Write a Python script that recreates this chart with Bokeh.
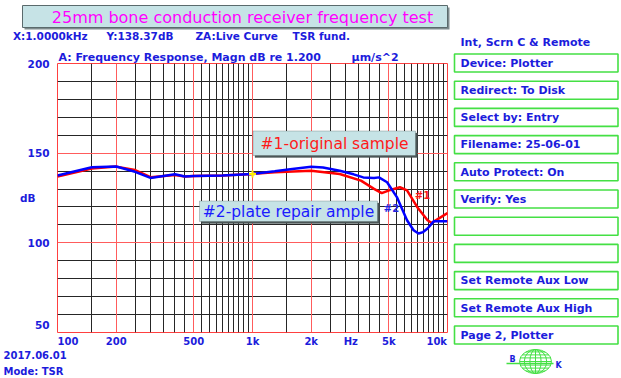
import numpy as np
from bokeh.plotting import figure
from bokeh.layouts import row, column
from bokeh.models import FixedTicker, Grid, Label, BoxAnnotation, Range1d, Title
from bokeh.core.properties import value
from bokeh.embed import file_html
from bokeh.resources import INLINE

# ---------------- data ----------------
freq_orig = [100, 150, 200, 250, 300, 400, 450, 500, 700, 1000, 1300, 2000, 2800,
             3600, 4200, 4600, 5100, 5700, 6200, 7000, 7900, 8300, 9000, 10000]
db_orig = [137.0, 141.5, 142.5, 140.6, 136.6, 137.8, 137.0, 137.2, 137.6, 138.4, 139.3, 140.2, 138.4,
           134.7, 130.1, 127.7, 129.5, 131.0, 129.2, 119.9, 112.6, 111.1, 113.5, 116.6]

freq_repair = [100, 150, 200, 250, 300, 400, 450, 500, 700, 1000, 1300, 1600, 2000, 2300, 2800,
               3300, 3700, 4200, 4450, 4900, 5500, 6200, 6700, 7100, 7500, 7900, 8500, 10000]
db_repair = [137.5, 142.1, 142.6, 139.6, 136.2, 138.2, 137.0, 137.2, 137.6, 138.4, 139.9, 141.2, 142.4, 142.0, 140.2,
             138.2, 136.5, 136.2, 136.5, 133.8, 125.5, 112.6, 107.0, 105.2, 106.0, 108.0, 112.0, 112.0]

cursor_freq = [1000]
cursor_db = [138.37]

x_tick_values = [100, 200, 500, 1000, 2000, 3000, 5000, 10000]
x_tick_labels = ["100", "200", "500", "1k", "2k", "Hz", "5k", "10k"]
x_major_grid = [100, 200, 500, 1000, 2000, 5000, 10000]
x_minor_grid = [150, 250, 300, 350, 400, 450, 550, 600, 650, 700, 750, 800, 850, 900, 950,
                1500, 2500, 3000, 3500, 4000, 4500, 5500, 6000, 6500, 7000, 7500, 8000, 8500, 9000, 9500]
y_tick_values = [50, 100, 150, 200]
y_tick_labels = ["50", "100", "150", "200"]
y_minor_grid = [60, 70, 80, 90, 110, 120, 130, 140, 160, 170, 180, 190]

title_text = "25mm bone conduction receiver frequency test"
status_items = ["X:1.0000kHz", "Y:138.37dB", "ZA:Live Curve", "TSR fund."]
chart_caption = "A: Frequency Response, Magn dB re 1.200"
chart_unit = "\u03bcm/s^2"
panel_header = "Int, Scrn C & Remote"
panel_items = ["Device: Plotter", "Redirect: To Disk", "Select by: Entry", "Filename: 25-06-01",
               "Auto Protect: On", "Verify: Yes", "", "", "Set Remote Aux Low",
               "Set Remote Aux High", "Page 2, Plotter"]

# ---------------- style / layout constants ----------------
FONT = "DejaVu Sans"
BLUE = "#1c1cdc"
RED_GRID = "#ff5c5c"
GREEN = "#44e044"
BOXFILL = "#c6e3e6"
SHADOW = "#4a5556"
W, H = 621, 378
LW = 450                       # width of left column
TOP_H = 48
FL, FR, FT, FB = 57, 447, 62, 333
BORDER_BOTTOM = 16
CHART_H = FB - TOP_H + BORDER_BOTTOM
BOT_H = H - TOP_H - CHART_H
NB = "\u00a0"


def deco_fig(x0, x1, y0, y1):
    f = figure(width=int(x1 - x0), height=int(y1 - y0), x_range=Range1d(x0, x1), y_range=Range1d(y1, y0),
               output_backend="svg", toolbar_location=None, min_border=0,
               x_axis_location=None, y_axis_location=None, title=None, frame_align=False,
               background_fill_color="white", border_fill_color="white", outline_line_color=None)
    f.grid.visible = False
    return f


def txt(f, x, y, s, color=BLUE, size="10.5px", style="bold", align="left"):
    f.text(x=[x], y=[y], text=[s], text_color=color, text_font=value(FONT), text_font_size=size,
           text_font_style=style, text_align=align, text_baseline="middle")


def qbox(f, l, t, r, b, fill=None, line=None, lw=1.0):
    f.quad(left=[l], right=[r], top=[t], bottom=[b],
           fill_color=fill, line_color=line, line_width=lw)


# ---------------- top strip ----------------
top = deco_fig(0, LW, 0, TOP_H)
qbox(top, 24, 7, 449, 29, fill="#7d8b8d")
qbox(top, 22, 5, 447, 27, fill=BOXFILL, line="#5a6a6c")
txt(top, 242, 16.5, title_text, color="#ff00ff", size="16px", style="normal", align="center")
for s, x in zip(status_items, [12.5, 106, 195, 292]):
    txt(top, x, 35.5, s)

# ---------------- chart ----------------
p = figure(width=LW, height=CHART_H, x_axis_type="log",
           x_range=Range1d(100, 10000), y_range=Range1d(50, 200),
           output_backend="svg", toolbar_location=None, frame_align=False,
           min_border_left=FL, min_border_right=LW - FR,
           min_border_top=FT - TOP_H, min_border_bottom=BORDER_BOTTOM,
           background_fill_color="white", border_fill_color="white",
           outline_line_color="#ff4040", outline_line_width=1)
p.title = Title(text=chart_caption + NB * 8 + chart_unit, align="left", offset=1, standoff=0,
                text_font=FONT, text_font_size="11px", text_font_style="bold", text_color=BLUE)

p.grid.visible = False
p.add_layout(Grid(dimension=0, ticker=FixedTicker(ticks=x_minor_grid),
                  grid_line_color="#262626", grid_line_width=1))
p.add_layout(Grid(dimension=1, ticker=FixedTicker(ticks=y_minor_grid),
                  grid_line_color="#262626", grid_line_width=1))
p.add_layout(Grid(dimension=0, ticker=FixedTicker(ticks=x_major_grid),
                  grid_line_color=RED_GRID, grid_line_width=1))
p.add_layout(Grid(dimension=1, ticker=FixedTicker(ticks=y_tick_values),
                  grid_line_color=RED_GRID, grid_line_width=1))

# edge labels nudged inward like the analyzer screen does
x_over = dict(zip(x_tick_values, x_tick_labels))
x_over[100] = NB * 6 + x_over[100]
x_over[3000] = NB * 3 + x_over[3000]
x_over[10000] = x_over[10000] + NB
y_over = dict(zip(y_tick_values, y_tick_labels))
y_over[50] = y_over[50] + "\n"

p.xaxis.ticker = FixedTicker(ticks=x_tick_values)
p.xaxis.major_label_overrides = x_over
p.yaxis.ticker = FixedTicker(ticks=y_tick_values)
p.yaxis.major_label_overrides = y_over
for ax in (p.xaxis, p.yaxis):
    ax.axis_line_color = None
    ax.major_tick_line_color = None
    ax.minor_tick_line_color = None
    ax.major_tick_out = 0
    ax.major_tick_in = 0
    ax.minor_tick_out = 0
    ax.minor_tick_in = 0
    ax.major_label_text_font = FONT
    ax.major_label_text_font_style = "bold"
    ax.major_label_text_color = BLUE
p.xaxis.major_label_text_font_size = "10px"
p.yaxis.major_label_text_font_size = "10.5px"
p.xaxis.major_label_standoff = 3
p.yaxis.major_label_standoff = 8
p.yaxis.axis_label = "dB"
p.yaxis.axis_label_orientation = "horizontal"
p.yaxis.axis_label_standoff = -11
p.yaxis.axis_label_text_font = FONT
p.yaxis.axis_label_text_font_size = "10.5px"
p.yaxis.axis_label_text_font_style = "bold"
p.yaxis.axis_label_text_color = BLUE

p.line(freq_orig, db_orig, line_color="#ff0000", line_width=2.5)
p.line(freq_repair, db_repair, line_color="#0000ff", line_width=2.5)
p.scatter(cursor_freq, cursor_db, marker="cross", size=7, line_color="#ffee00", line_width=2)


def fbox(l, t, r, b, fill):
    p.add_layout(BoxAnnotation(left=l - FL, right=r - FL, top=FB - t, bottom=FB - b,
                               left_units="screen", right_units="screen",
                               top_units="screen", bottom_units="screen",
                               fill_color=fill, fill_alpha=1,
                               line_color=SHADOW, line_width=1))


def flabel(x, y, s, color, size, style="normal"):
    p.add_layout(Label(x=x - FL, y=FB - y, x_units="screen", y_units="screen", text=s,
                       text_color=color, text_font=FONT, text_font_size=size,
                       text_font_style=style, text_align="center", text_baseline="middle"))


fbox(254.5, 133.5, 417, 158, SHADOW)
fbox(252.5, 131.5, 415, 156, BOXFILL)
flabel(334, 144, "#1-original sample", "#ff1a1a", "15.5px")
fbox(201, 203.5, 379, 224, SHADOW)
fbox(199, 201.5, 377, 222, BOXFILL)
flabel(288, 212, "#2-plate repair ample", "#1a1aff", "15.5px")
flabel(422, 196, "#1", "#ff1a1a", "10px", "bold")
flabel(391, 208.5, "#2", "#2424e0", "10px", "bold")

# ---------------- bottom strip ----------------
y0b = TOP_H + CHART_H
bot = deco_fig(0, LW, y0b, H)
txt(bot, 3, 354.5, "2017.06.01", size="10px")
txt(bot, 3, 371, "Mode: TSR", size="10px")

# ---------------- right panel ----------------
rp = deco_fig(LW, W, 0, H)
txt(rp, 460, 41.5, panel_header, size="11px")
for i, s in enumerate(panel_items):
    t0 = 53.5 + 27.2 * i
    qbox(rp, 454, t0, 617.5, t0 + 18, line=GREEN, lw=1.6)
    if s:
        txt(rp, 460, t0 + 9.3, s, size="11px")

# logo (globe)
cx, cy, rx, ry = 535, 361, 16, 12
rp.ellipse(x=[cx], y=[cy], width=2 * rx, height=2 * ry, fill_color=None, line_color=GREEN, line_width=1)
rp.ellipse(x=[cx, cx], y=[cy, cy], width=[0.7 * 2 * rx, 0.35 * 2 * rx], height=[2 * ry, 2 * ry],
           fill_color=None, line_color=GREEN, line_width=1)
lat_xs, lat_ys = [[cx, cx]], [[cy - ry, cy + ry]]
for fy in (-0.8, -0.55, -0.3, 0.0, 0.3, 0.55, 0.8):
    half = rx * np.sqrt(1 - fy ** 2)
    lat_xs.append([cx - half, cx + half])
    lat_ys.append([cy + ry * fy, cy + ry * fy])
rp.multi_line(lat_xs, lat_ys, line_color=GREEN, line_width=1)
rp.line([506, 553], [363, 363], line_color=GREEN, line_width=1.5)
txt(rp, 512, 359, "B", size="8px", align="center")
txt(rp, 558, 365, "K", size="8px", align="center")

layout = row(column(top, p, bot, spacing=0), rp, spacing=0)
open("out.html", "w").write(file_html(layout, INLINE))
